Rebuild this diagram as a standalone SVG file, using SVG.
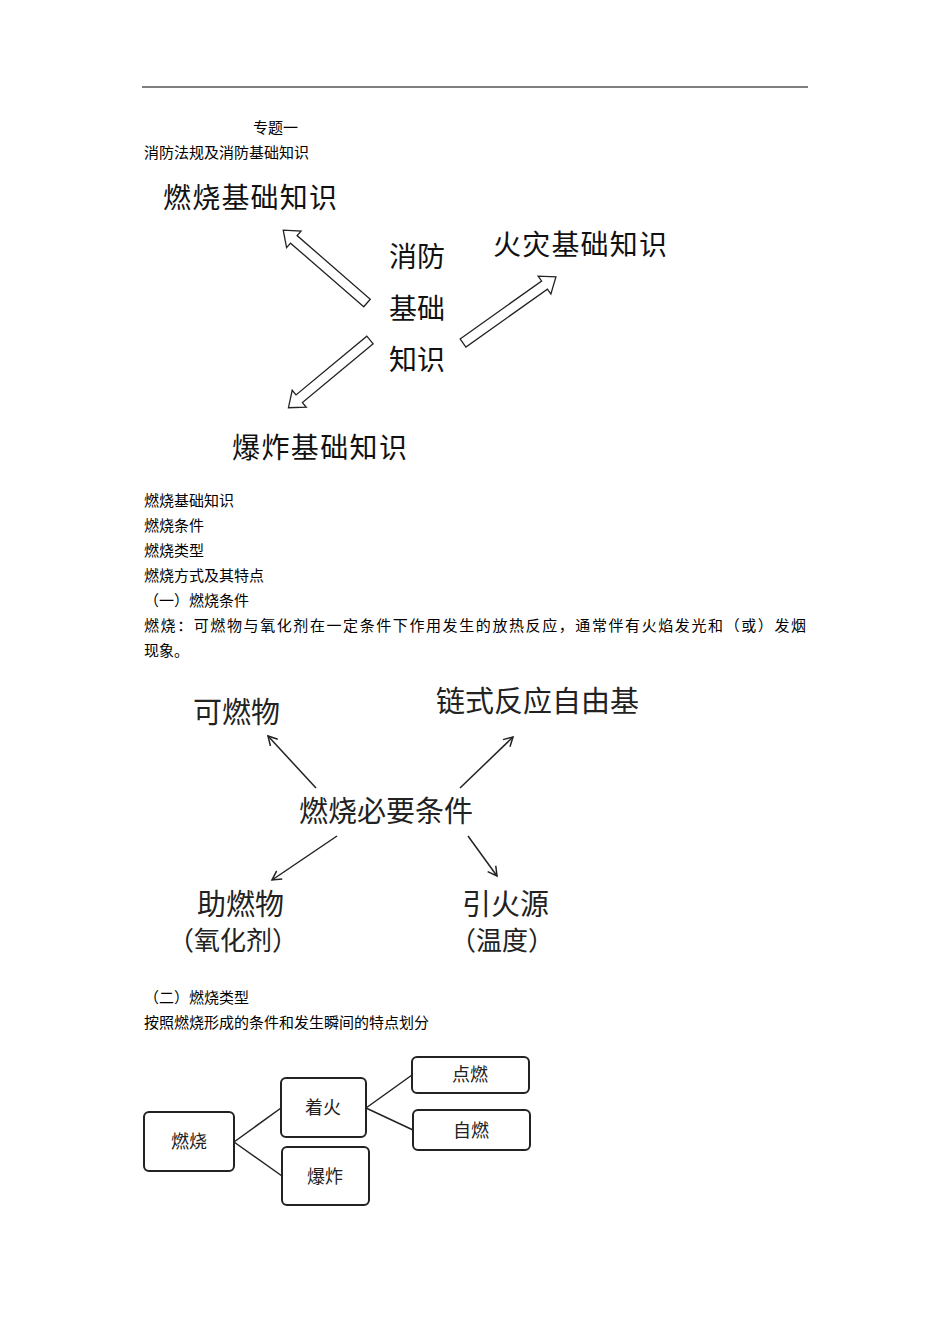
<svg xmlns="http://www.w3.org/2000/svg" width="950" height="1344" viewBox="0 0 950 1344">
<style>
.b{font-family:"Noto Sans CJK SC",sans-serif;font-size:15px;fill:#000}
.L{font-family:"Noto Sans CJK SC",sans-serif;font-size:28px;fill:#111}
.M{font-family:"Noto Sans CJK SC",sans-serif;font-size:29px;fill:#222}
.P{font-family:"Noto Sans CJK SC",sans-serif;font-size:26px;fill:#222}
.S{font-family:"Noto Sans CJK SC",sans-serif;font-size:18px;fill:#222}
.ha{fill:#fff;stroke:#222;stroke-width:1.3}
.ln{stroke:#222;stroke-width:1.5;fill:none}
.bx{fill:#fff;stroke:#222;stroke-width:2}
</style>
<defs>
<marker id="ah" markerWidth="12" markerHeight="12" refX="10" refY="6" orient="auto" markerUnits="userSpaceOnUse"><path d="M1,1 L10,6 L1,11" fill="none" stroke="#222" stroke-width="1.5"/></marker>
</defs>
<rect width="950" height="1344" fill="#fff"/>
<line x1="142" y1="87" x2="808" y2="87" stroke="#000" stroke-width="1"/>
<g id="text-body">
<text class="b" x="253" y="133">专题一</text>
<text class="b" x="144" y="158">消防法规及消防基础知识</text>
<text class="b" x="144" y="506">燃烧基础知识</text>
<text class="b" x="144" y="531">燃烧条件</text>
<text class="b" x="144" y="556">燃烧类型</text>
<text class="b" x="144" y="581">燃烧方式及其特点</text>
<text class="b" x="144" y="606">（一）燃烧条件</text>
<text class="b" x="144" y="631" textLength="662">燃烧：可燃物与氧化剂在一定条件下作用发生的放热反应，通常伴有火焰发光和（或）发烟</text>
<text class="b" x="144" y="656">现象。</text>
<text class="b" x="144" y="1003">（二）燃烧类型</text>
<text class="b" x="144" y="1028">按照燃烧形成的条件和发生瞬间的特点划分</text>
</g>
<g id="connectors">
<polygon class="ha" transform="translate(367,303) rotate(221)" points="0,-5 97,-5 97,-11 111,0 97,11 97,5 0,5"/>
<polygon class="ha" transform="translate(463,343) rotate(-35.4)" points="0,-5 100,-5 100,-11 114,0 100,11 100,5 0,5"/>
<polygon class="ha" transform="translate(370,340) rotate(140.3)" points="0,-5 92,-5 92,-11 106,0 92,11 92,5 0,5"/>
<line class="ln" x1="316" y1="788" x2="268" y2="736" marker-end="url(#ah)"/>
<line class="ln" x1="460" y1="788" x2="513" y2="737" marker-end="url(#ah)"/>
<line class="ln" x1="337" y1="836" x2="272" y2="880" marker-end="url(#ah)"/>
<line class="ln" x1="468" y1="836" x2="497" y2="876" marker-end="url(#ah)"/>
<path class="ln" stroke-width="2" d="M234,1142 L281,1108 M234,1142 L282,1176 M366,1108 L412,1075 M366,1108 L413,1130"/>
</g>
<g id="n-center"><text class="L" x="389" y="267">消防</text><text class="L" x="389" y="319">基础</text><text class="L" x="389" y="370">知识</text></g>
<g id="n-burn"><text class="L" x="163" y="208" textLength="174">燃烧基础知识</text></g>
<g id="n-fire"><text class="L" x="493" y="255" textLength="174">火灾基础知识</text></g>
<g id="n-expl"><text class="L" x="232" y="458" textLength="175">爆炸基础知识</text></g>
<g id="n-cond"><text class="M" x="299" y="822">燃烧必要条件</text></g>
<g id="n-fuel"><text class="M" x="193" y="723">可燃物</text></g>
<g id="n-chain"><text class="M" x="436" y="712">链式反应自由基</text></g>
<g id="n-ox"><text class="M" x="197" y="915">助燃物</text><text class="P" x="168" y="950">（氧化剂）</text></g>
<g id="n-ign"><text class="M" x="462" y="915">引火源</text><text class="P" x="450" y="950">（温度）</text></g>
<g id="b-burn"><rect class="bx" x="144" y="1112" width="90" height="59" rx="5"/><text class="S" x="189" y="1148" text-anchor="middle">燃烧</text></g>
<g id="b-ign"><rect class="bx" x="281" y="1078" width="85" height="59" rx="5"/><text class="S" x="323" y="1114" text-anchor="middle">着火</text></g>
<g id="b-exp"><rect class="bx" x="282" y="1147" width="87" height="58" rx="5"/><text class="S" x="325" y="1183" text-anchor="middle">爆炸</text></g>
<g id="b-pt"><rect class="bx" x="412" y="1057" width="117" height="36" rx="5"/><text class="S" x="470" y="1081" text-anchor="middle">点燃</text></g>
<g id="b-self"><rect class="bx" x="413" y="1110" width="117" height="40" rx="5"/><text class="S" x="471" y="1137" text-anchor="middle">自燃</text></g>
</svg>
